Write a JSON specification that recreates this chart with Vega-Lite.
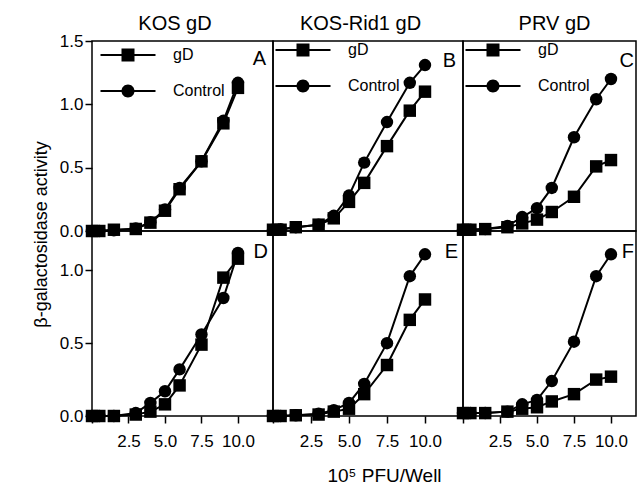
{
  "$schema": "https://vega.github.io/schema/vega-lite/v6.json",
  "padding": {"left": 32, "top": 12, "right": 0, "bottom": 0},
  "background": "white",
  "config": {
    "font": "Liberation Sans",
    "view": {"stroke": "black", "strokeWidth": 1.5},
    "axis": {"labelColor": "black", "tickColor": "black", "titleColor": "black", "labelFont": "Liberation Sans", "titleFont": "Liberation Sans", "labelFontSize": 17, "tickWidth": 1.5, "tickSize": 7, "domain": false, "grid": false, "titleFontWeight": "normal"},
    "title": {"color": "black", "font": "Liberation Sans", "fontSize": 20, "fontWeight": "normal"},
    "legend": {"labelFont": "Liberation Sans", "labelColor": "black", "labelFontSize": 16}
  },
  "data": {"values": [
    {"p":"A","s":"gD","x":0,"y":0},{"p":"A","s":"gD","x":0.5,"y":0},{"p":"A","s":"gD","x":1.5,"y":0.01},{"p":"A","s":"gD","x":3,"y":0.016},{"p":"A","s":"gD","x":4,"y":0.066},{"p":"A","s":"gD","x":5,"y":0.16},{"p":"A","s":"gD","x":6,"y":0.33},{"p":"A","s":"gD","x":7.5,"y":0.55},{"p":"A","s":"gD","x":9,"y":0.85},{"p":"A","s":"gD","x":10,"y":1.13},
    {"p":"A","s":"Control","x":0,"y":0},{"p":"A","s":"Control","x":0.5,"y":0},{"p":"A","s":"Control","x":1.5,"y":0.005},{"p":"A","s":"Control","x":3,"y":0.02},{"p":"A","s":"Control","x":4,"y":0.07},{"p":"A","s":"Control","x":5,"y":0.17},{"p":"A","s":"Control","x":6,"y":0.34},{"p":"A","s":"Control","x":7.5,"y":0.55},{"p":"A","s":"Control","x":9,"y":0.87},{"p":"A","s":"Control","x":10,"y":1.17},
    {"p":"B","s":"gD","x":0,"y":0.01},{"p":"B","s":"gD","x":0.5,"y":0.01},{"p":"B","s":"gD","x":1.5,"y":0.03},{"p":"B","s":"gD","x":3,"y":0.05},{"p":"B","s":"gD","x":4,"y":0.1},{"p":"B","s":"gD","x":5,"y":0.23},{"p":"B","s":"gD","x":6,"y":0.38},{"p":"B","s":"gD","x":7.5,"y":0.67},{"p":"B","s":"gD","x":9,"y":0.95},{"p":"B","s":"gD","x":10,"y":1.1},
    {"p":"B","s":"Control","x":0,"y":0.01},{"p":"B","s":"Control","x":0.5,"y":0.015},{"p":"B","s":"Control","x":1.5,"y":0.03},{"p":"B","s":"Control","x":3,"y":0.05},{"p":"B","s":"Control","x":4,"y":0.12},{"p":"B","s":"Control","x":5,"y":0.28},{"p":"B","s":"Control","x":6,"y":0.54},{"p":"B","s":"Control","x":7.5,"y":0.86},{"p":"B","s":"Control","x":9,"y":1.17},{"p":"B","s":"Control","x":10,"y":1.31},
    {"p":"C","s":"gD","x":0,"y":0.01},{"p":"C","s":"gD","x":0.5,"y":0.01},{"p":"C","s":"gD","x":1.5,"y":0.015},{"p":"C","s":"gD","x":3,"y":0.03},{"p":"C","s":"gD","x":4,"y":0.06},{"p":"C","s":"gD","x":5,"y":0.09},{"p":"C","s":"gD","x":6,"y":0.15},{"p":"C","s":"gD","x":7.5,"y":0.27},{"p":"C","s":"gD","x":9,"y":0.51},{"p":"C","s":"gD","x":10,"y":0.56},
    {"p":"C","s":"Control","x":0,"y":0.01},{"p":"C","s":"Control","x":0.5,"y":0.01},{"p":"C","s":"Control","x":1.5,"y":0.015},{"p":"C","s":"Control","x":3,"y":0.04},{"p":"C","s":"Control","x":4,"y":0.11},{"p":"C","s":"Control","x":5,"y":0.18},{"p":"C","s":"Control","x":6,"y":0.34},{"p":"C","s":"Control","x":7.5,"y":0.74},{"p":"C","s":"Control","x":9,"y":1.04},{"p":"C","s":"Control","x":10,"y":1.2},
    {"p":"D","s":"gD","x":0,"y":0},{"p":"D","s":"gD","x":0.5,"y":0},{"p":"D","s":"gD","x":1.5,"y":0},{"p":"D","s":"gD","x":3,"y":0.01},{"p":"D","s":"gD","x":4,"y":0.03},{"p":"D","s":"gD","x":5,"y":0.08},{"p":"D","s":"gD","x":6,"y":0.21},{"p":"D","s":"gD","x":7.5,"y":0.49},{"p":"D","s":"gD","x":9,"y":0.95},{"p":"D","s":"gD","x":10,"y":1.08},
    {"p":"D","s":"Control","x":0,"y":0},{"p":"D","s":"Control","x":0.5,"y":0},{"p":"D","s":"Control","x":1.5,"y":0},{"p":"D","s":"Control","x":3,"y":0.02},{"p":"D","s":"Control","x":4,"y":0.09},{"p":"D","s":"Control","x":5,"y":0.17},{"p":"D","s":"Control","x":6,"y":0.32},{"p":"D","s":"Control","x":7.5,"y":0.56},{"p":"D","s":"Control","x":9,"y":0.81},{"p":"D","s":"Control","x":10,"y":1.12},
    {"p":"E","s":"gD","x":0,"y":0},{"p":"E","s":"gD","x":0.5,"y":0},{"p":"E","s":"gD","x":1.5,"y":0.005},{"p":"E","s":"gD","x":3,"y":0.01},{"p":"E","s":"gD","x":4,"y":0.03},{"p":"E","s":"gD","x":5,"y":0.05},{"p":"E","s":"gD","x":6,"y":0.15},{"p":"E","s":"gD","x":7.5,"y":0.35},{"p":"E","s":"gD","x":9,"y":0.66},{"p":"E","s":"gD","x":10,"y":0.8},
    {"p":"E","s":"Control","x":0,"y":0},{"p":"E","s":"Control","x":0.5,"y":0},{"p":"E","s":"Control","x":1.5,"y":0.005},{"p":"E","s":"Control","x":3,"y":0.015},{"p":"E","s":"Control","x":4,"y":0.04},{"p":"E","s":"Control","x":5,"y":0.09},{"p":"E","s":"Control","x":6,"y":0.22},{"p":"E","s":"Control","x":7.5,"y":0.5},{"p":"E","s":"Control","x":9,"y":0.96},{"p":"E","s":"Control","x":10,"y":1.11},
    {"p":"F","s":"gD","x":0,"y":0.02},{"p":"F","s":"gD","x":0.5,"y":0.02},{"p":"F","s":"gD","x":1.5,"y":0.02},{"p":"F","s":"gD","x":3,"y":0.03},{"p":"F","s":"gD","x":4,"y":0.05},{"p":"F","s":"gD","x":5,"y":0.06},{"p":"F","s":"gD","x":6,"y":0.1},{"p":"F","s":"gD","x":7.5,"y":0.15},{"p":"F","s":"gD","x":9,"y":0.25},{"p":"F","s":"gD","x":10,"y":0.27},
    {"p":"F","s":"Control","x":0,"y":0.02},{"p":"F","s":"Control","x":0.5,"y":0.02},{"p":"F","s":"Control","x":1.5,"y":0.02},{"p":"F","s":"Control","x":3,"y":0.03},{"p":"F","s":"Control","x":4,"y":0.08},{"p":"F","s":"Control","x":5,"y":0.11},{"p":"F","s":"Control","x":6,"y":0.24},{"p":"F","s":"Control","x":7.5,"y":0.51},{"p":"F","s":"Control","x":9,"y":0.96},{"p":"F","s":"Control","x":10,"y":1.11}
  ]},
  "spacing": 0,
  "bounds": "flush",
  "columns": 3,
  "resolve": {"scale": {"shape": "independent"}, "legend": {"shape": "independent"}},
  "concat": [
    {
      "width": 181, "height": 190,
      "title": {"text": "A", "anchor": "end", "frame": "group", "offset": -72, "baseline": "alphabetic", "dx": -7},
      "transform": [{"filter": "datum.p == 'A'"}],
      "encoding": {
        "x": {"field": "x", "type": "quantitative", "scale": {"domain": [0, 12.4], "nice": false, "zero": false}, "axis": {"orient": "top", "labels": false, "ticks": false, "title": "KOS gD", "titleFontSize": 20, "titleBaseline": "alphabetic", "titleY": -12, "titleX": 82.5}},
        "y": {"field": "y", "type": "quantitative", "scale": {"domain": [0, 1.5], "nice": false}, "axis": {"values": [0, 0.5, 1, 1.5], "format": ".1f", "labelPadding": 2, "title": "β-galactosidase activity", "titleFontSize": 18, "titleY": 193, "titlePadding": 8.5}}
      },
      "layer": [
        {"mark": {"type": "line", "color": "black", "strokeWidth": 2}, "encoding": {"detail": {"field": "s"}}},
        {"transform": [{"filter": "datum.s == 'gD'"}], "mark": {"type": "point", "shape": "square", "filled": true, "color": "black", "opacity": 1, "size": 155}},
        {"transform": [{"filter": "datum.s == 'Control'"}], "mark": {"type": "point", "shape": "circle", "filled": true, "color": "black", "opacity": 1, "size": 155}},
        {"mark": {"type": "point", "filled": true, "color": "black", "opacity": 0},
         "encoding": {"shape": {"field": "s", "type": "nominal", "scale": {"domain": ["gD", "Control"], "range": ["M-2.75,-0.1H2.75V0.1H-2.75ZM-0.65,-0.65H0.65V0.65H-0.65Z", "M-2.75,-0.1H2.75V0.1H-2.75ZM-0.65,0A0.65,0.65,0,1,1,0.65,0A0.65,0.65,0,1,1,-0.65,0Z"]},
           "legend": {"title": null, "orient": "none", "legendX": 10, "legendY": 4, "padding": 0, "symbolSize": 400, "symbolOffset": 16, "labelOffset": 35, "rowPadding": 18, "symbolOpacity": 1, "symbolFillColor": "black", "symbolStrokeWidth": 0}}}}
      ]
    },
    {
      "width": 190, "height": 190,
      "title": {"text": "B", "anchor": "end", "frame": "group", "offset": -74, "baseline": "alphabetic", "dx": -7},
      "transform": [{"filter": "datum.p == 'B'"}],
      "encoding": {
        "x": {"field": "x", "type": "quantitative", "scale": {"domain": [0, 12.5], "nice": false, "zero": false}, "axis": {"orient": "top", "labels": false, "ticks": false, "title": "KOS-Rid1 gD", "titleFontSize": 20, "titleBaseline": "alphabetic", "titleY": -12, "titleX": 87}},
        "y": {"field": "y", "type": "quantitative", "scale": {"domain": [0, 1.5], "nice": false}, "axis": null}
      },
      "layer": [
        {"mark": {"type": "line", "color": "black", "strokeWidth": 2}, "encoding": {"detail": {"field": "s"}}},
        {"transform": [{"filter": "datum.s == 'gD'"}], "mark": {"type": "point", "shape": "square", "filled": true, "color": "black", "opacity": 1, "size": 155}},
        {"transform": [{"filter": "datum.s == 'Control'"}], "mark": {"type": "point", "shape": "circle", "filled": true, "color": "black", "opacity": 1, "size": 155}},
        {"mark": {"type": "point", "filled": true, "color": "black", "opacity": 0},
         "encoding": {"shape": {"field": "s", "type": "nominal", "scale": {"domain": ["gD", "Control"], "range": ["M-2.75,-0.1H2.75V0.1H-2.75ZM-0.65,-0.65H0.65V0.65H-0.65Z", "M-2.75,-0.1H2.75V0.1H-2.75ZM-0.65,0A0.65,0.65,0,1,1,0.65,0A0.65,0.65,0,1,1,-0.65,0Z"]},
           "legend": {"title": null, "orient": "none", "legendX": 4, "legendY": -1, "padding": 0, "symbolSize": 400, "symbolOffset": 16, "labelOffset": 35, "rowPadding": 18, "symbolOpacity": 1, "symbolFillColor": "black", "symbolStrokeWidth": 0}}}}
      ]
    },
    {
      "width": 173, "height": 190,
      "title": {"text": "C", "anchor": "end", "frame": "group", "offset": -74, "baseline": "alphabetic", "dx": -2},
      "transform": [{"filter": "datum.p == 'C'"}],
      "encoding": {
        "x": {"field": "x", "type": "quantitative", "scale": {"domain": [0, 11.69], "nice": false, "zero": false}, "axis": {"orient": "top", "labels": false, "ticks": false, "title": "PRV gD", "titleFontSize": 20, "titleBaseline": "alphabetic", "titleY": -12, "titleX": 91}},
        "y": {"field": "y", "type": "quantitative", "scale": {"domain": [0, 1.5], "nice": false}, "axis": null}
      },
      "layer": [
        {"mark": {"type": "line", "color": "black", "strokeWidth": 2}, "encoding": {"detail": {"field": "s"}}},
        {"transform": [{"filter": "datum.s == 'gD'"}], "mark": {"type": "point", "shape": "square", "filled": true, "color": "black", "opacity": 1, "size": 155}},
        {"transform": [{"filter": "datum.s == 'Control'"}], "mark": {"type": "point", "shape": "circle", "filled": true, "color": "black", "opacity": 1, "size": 155}},
        {"mark": {"type": "point", "filled": true, "color": "black", "opacity": 0},
         "encoding": {"shape": {"field": "s", "type": "nominal", "scale": {"domain": ["gD", "Control"], "range": ["M-2.75,-0.1H2.75V0.1H-2.75ZM-0.65,-0.65H0.65V0.65H-0.65Z", "M-2.75,-0.1H2.75V0.1H-2.75ZM-0.65,0A0.65,0.65,0,1,1,0.65,0A0.65,0.65,0,1,1,-0.65,0Z"]},
           "legend": {"title": null, "orient": "none", "legendX": 4, "legendY": -1, "padding": 0, "symbolSize": 400, "symbolOffset": 16, "labelOffset": 35, "rowPadding": 18, "symbolOpacity": 1, "symbolFillColor": "black", "symbolStrokeWidth": 0}}}}
      ]
    },
    {
      "width": 181, "height": 185,
      "title": {"text": "D", "anchor": "end", "frame": "group", "offset": -47, "baseline": "alphabetic", "dx": -5},
      "transform": [{"filter": "datum.p == 'D'"}],
      "encoding": {
        "x": {"field": "x", "type": "quantitative", "scale": {"domain": [0, 12.4], "nice": false, "zero": false}, "axis": {"values": [0, 2.5, 5, 7.5, 10], "labelExpr": "datum.value == 0 ? '' : format(datum.value, '.1f')", "labelPadding": 10, "title": null}},
        "y": {"field": "y", "type": "quantitative", "scale": {"domain": [0, 1.27], "nice": false}, "axis": {"values": [0, 0.5, 1], "format": ".1f", "labelPadding": 2, "title": null}}
      },
      "layer": [
        {"mark": {"type": "line", "color": "black", "strokeWidth": 2}, "encoding": {"detail": {"field": "s"}}},
        {"transform": [{"filter": "datum.s == 'gD'"}], "mark": {"type": "point", "shape": "square", "filled": true, "color": "black", "opacity": 1, "size": 155}},
        {"transform": [{"filter": "datum.s == 'Control'"}], "mark": {"type": "point", "shape": "circle", "filled": true, "color": "black", "opacity": 1, "size": 155}}
      ]
    },
    {
      "width": 190, "height": 185,
      "title": {"text": "E", "anchor": "end", "frame": "group", "offset": -47, "baseline": "alphabetic", "dx": -5},
      "transform": [{"filter": "datum.p == 'E'"}],
      "encoding": {
        "x": {"field": "x", "type": "quantitative", "scale": {"domain": [0, 12.5], "nice": false, "zero": false}, "axis": {"values": [0, 2.5, 5, 7.5, 10], "labelExpr": "datum.value == 0 ? '' : format(datum.value, '.1f')", "labelPadding": 10, "title": "10⁵ PFU/Well", "titleFontSize": 19, "titleX": 111, "titleY": 65, "titleBaseline": "alphabetic"}},
        "y": {"field": "y", "type": "quantitative", "scale": {"domain": [0, 1.27], "nice": false}, "axis": null}
      },
      "layer": [
        {"mark": {"type": "line", "color": "black", "strokeWidth": 2}, "encoding": {"detail": {"field": "s"}}},
        {"transform": [{"filter": "datum.s == 'gD'"}], "mark": {"type": "point", "shape": "square", "filled": true, "color": "black", "opacity": 1, "size": 155}},
        {"transform": [{"filter": "datum.s == 'Control'"}], "mark": {"type": "point", "shape": "circle", "filled": true, "color": "black", "opacity": 1, "size": 155}}
      ]
    },
    {
      "width": 173, "height": 185,
      "title": {"text": "F", "anchor": "end", "frame": "group", "offset": -47, "baseline": "alphabetic", "dx": -2},
      "transform": [{"filter": "datum.p == 'F'"}],
      "encoding": {
        "x": {"field": "x", "type": "quantitative", "scale": {"domain": [0, 11.69], "nice": false, "zero": false}, "axis": {"values": [0, 2.5, 5, 7.5, 10], "labelExpr": "datum.value == 0 ? '' : format(datum.value, '.1f')", "labelPadding": 10, "title": null}},
        "y": {"field": "y", "type": "quantitative", "scale": {"domain": [0, 1.27], "nice": false}, "axis": null}
      },
      "layer": [
        {"mark": {"type": "line", "color": "black", "strokeWidth": 2}, "encoding": {"detail": {"field": "s"}}},
        {"transform": [{"filter": "datum.s == 'gD'"}], "mark": {"type": "point", "shape": "square", "filled": true, "color": "black", "opacity": 1, "size": 155}},
        {"transform": [{"filter": "datum.s == 'Control'"}], "mark": {"type": "point", "shape": "circle", "filled": true, "color": "black", "opacity": 1, "size": 155}}
      ]
    }
  ]
}
